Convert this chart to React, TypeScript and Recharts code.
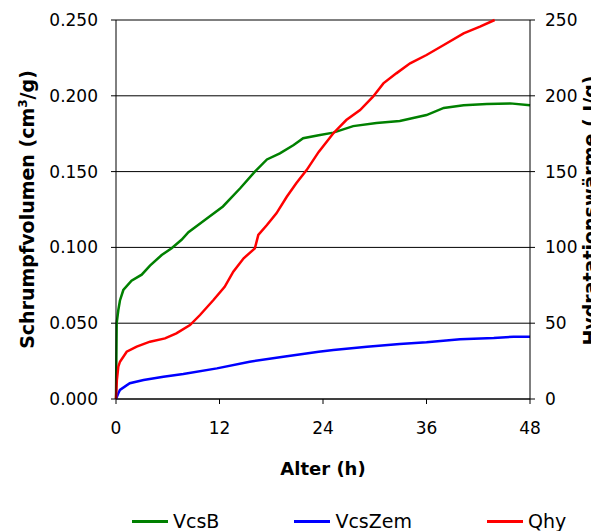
import React from "react";
import {
  LineChart,
  Line,
  XAxis,
  YAxis,
  CartesianGrid,
  Legend,
  Label,
} from "recharts";

// ---- data ----
const xTicks = [0, 12, 24, 36, 48];
const leftTicks = [0, 0.05, 0.1, 0.15, 0.2, 0.25];
const rightTicks = [0, 50, 100, 150, 200, 250];

const vcsBHours = [0, 0.08, 0.27, 0.46, 0.85, 1.8, 2.98, 3.94, 5.3, 6.45, 7.6, 8.4, 10.3, 12.4, 14.4, 16.1, 17.5, 19.0, 20.6, 21.7, 23.5, 25.2, 27.5, 30.2, 32.9, 36.0, 38.0, 40.3, 43.0, 45.7, 48];
const vcsBValues = [0, 0.05, 0.0587, 0.065, 0.0719, 0.078, 0.082, 0.088, 0.095, 0.0995, 0.105, 0.11, 0.118, 0.127, 0.139, 0.15, 0.158, 0.162, 0.1675, 0.172, 0.174, 0.1757, 0.18, 0.182, 0.1834, 0.1873, 0.192, 0.1937, 0.1946, 0.195, 0.1937];

const vcsZemHours = [0, 0.27, 0.46, 1.6, 3.2, 5.5, 7.8, 11.7, 15.5, 19.4, 23.5, 25.2, 29.1, 32.9, 36.0, 39.9, 43.8, 46.1, 48];
const vcsZemValues = [0, 0.0038, 0.006, 0.0104, 0.0125, 0.0147, 0.0165, 0.0202, 0.0246, 0.0279, 0.0312, 0.0323, 0.0345, 0.0363, 0.0374, 0.0394, 0.0402, 0.0411, 0.0411];

const qhyHours = [0, 0.1, 0.27, 0.46, 1.24, 2.4, 3.94, 5.68, 7.0, 8.58, 9.74, 11.3, 12.6, 13.6, 14.8, 16.1, 16.5, 17.5, 18.6, 19.8, 20.9, 22.1, 23.5, 25.2, 26.7, 28.3, 29.8, 31.0, 32.5, 34.1, 36.0, 38.0, 40.3, 42.2, 43.9];
const qhyValues = [0, 12.5, 21.3, 24.6, 31.2, 34.5, 37.8, 40.0, 43.3, 48.8, 55.4, 65.3, 74, 84, 92.8, 99.4, 108.2, 114.8, 122.5, 133.4, 142.3, 151, 163, 175.3, 184, 190.6, 199.4, 208.2, 214.8, 221.4, 226.9, 233.5, 241.2, 245.6, 250];

const seriesNames = ["VcsB", "VcsZem", "Qhy"];
const seriesColors = ["#008000", "#0000ff", "#ff0000"];

const zip = (xs: number[], ys: number[]) => xs.map((t, i) => ({ t, v: ys[i] }));
const vcsBData = zip(vcsBHours, vcsBValues);
const vcsZemData = zip(vcsZemHours, vcsZemValues);
const qhyData = zip(qhyHours, qhyValues);

const FONT = "'DejaVu Sans', sans-serif";
const tickStyle = { fill: "#000", fontSize: 17, fontFamily: FONT };

const LeftTitle = (props: any) => {
  const vb = props.viewBox || {};
  const x = vb.x + 34;
  const y = vb.y + vb.height / 2;
  return (
    <text
      x={x}
      y={y}
      transform={`rotate(-90 ${x} ${y})`}
      textAnchor="middle"
      fontFamily={FONT}
      fontWeight="bold"
      fontSize={19}
      fill="#000"
    >
      Schrumpfvolumen (cm
      <tspan dy={-7} fontSize={12}>3</tspan>
      <tspan dy={7}>/g)</tspan>
    </text>
  );
};

const RightTitle = (props: any) => {
  const vb = props.viewBox || {};
  const x = vb.x + 67;
  const y = vb.y + vb.height / 2 + 1;
  return (
    <text
      x={x}
      y={y}
      transform={`rotate(-90 ${x} ${y})`}
      textAnchor="middle"
      fontFamily={FONT}
      fontWeight="bold"
      fontSize={19}
      fill="#000"
    >
      Hydratationswärme ( J/g)
    </text>
  );
};

const BottomTitle = (props: any) => {
  const vb = props.viewBox || {};
  const x = vb.x + vb.width / 2;
  const y = vb.y + 76;
  return (
    <text
      x={x}
      y={y}
      textAnchor="middle"
      fontFamily={FONT}
      fontWeight="bold"
      fontSize={18}
      fill="#000"
    >
      Alter (h)
    </text>
  );
};

const LegendContent = () => {
  return (
    <div
      style={{
        width: 591,
        height: 32,
        boxSizing: "border-box",
        paddingTop: 13,
        paddingLeft: 132,
        display: "flex",
        alignItems: "flex-start",
        fontFamily: FONT,
        fontSize: 19,
        color: "#000",
      }}
    >
      {seriesNames.map((name, i) => (
        <div
          key={name}
          style={{
            display: "flex",
            alignItems: "center",
            height: 19,
            lineHeight: "19px",
            marginRight: 75,
            whiteSpace: "nowrap",
          }}
        >
          <div style={{ width: 36, height: 3, background: seriesColors[i], marginRight: 5 }} />
          <span>{name}</span>
        </div>
      ))}
    </div>
  );
};

export default function App() {
  return (
    <div style={{ position: "absolute", left: 0, top: 0, width: 591, height: 531, background: "#fff" }}>
      <LineChart
        width={591}
        height={531}
        margin={{ top: 20, right: 0, bottom: 0, left: 0 }}
      >
        <CartesianGrid yAxisId="left" vertical={false} stroke="#000" strokeWidth={1} />
        <XAxis
          type="number"
          dataKey="t"
          domain={[0, 48]}
          ticks={xTicks}
          height={100}
          tickSize={5}
          tickMargin={18}
          tick={tickStyle}
          axisLine={{ stroke: "#000" }}
          tickLine={{ stroke: "#000" }}
        >
          <Label content={BottomTitle} />
        </XAxis>
        <YAxis
          yAxisId="left"
          domain={[0, 0.25]}
          ticks={leftTicks}
          width={116}
          tickSize={5}
          tickMargin={13}
          tick={tickStyle}
          tickFormatter={(v: number) => v.toFixed(3)}
          axisLine={{ stroke: "#000" }}
          tickLine={{ stroke: "#000" }}
        >
          <Label content={LeftTitle} />
        </YAxis>
        <YAxis
          yAxisId="right"
          orientation="right"
          domain={[0, 250]}
          ticks={rightTicks}
          width={61}
          tickSize={5}
          tickMargin={10}
          tick={tickStyle}
          axisLine={{ stroke: "#000" }}
          tickLine={{ stroke: "#000" }}
        >
          <Label content={RightTitle} />
        </YAxis>
        <Legend verticalAlign="bottom" align="left" content={LegendContent} wrapperStyle={{ left: 0, width: 591 }} />
        <Line
          data={vcsBData}
          dataKey="v"
          name={seriesNames[0]}
          yAxisId="left"
          type="linear"
          stroke={seriesColors[0]}
          strokeWidth={2.5}
          dot={false}
          isAnimationActive={false}
        />
        <Line
          data={vcsZemData}
          dataKey="v"
          name={seriesNames[1]}
          yAxisId="left"
          type="linear"
          stroke={seriesColors[1]}
          strokeWidth={2.5}
          dot={false}
          isAnimationActive={false}
        />
        <Line
          data={qhyData}
          dataKey="v"
          name={seriesNames[2]}
          yAxisId="right"
          type="linear"
          stroke={seriesColors[2]}
          strokeWidth={2.5}
          dot={false}
          isAnimationActive={false}
        />
      </LineChart>
    </div>
  );
}
